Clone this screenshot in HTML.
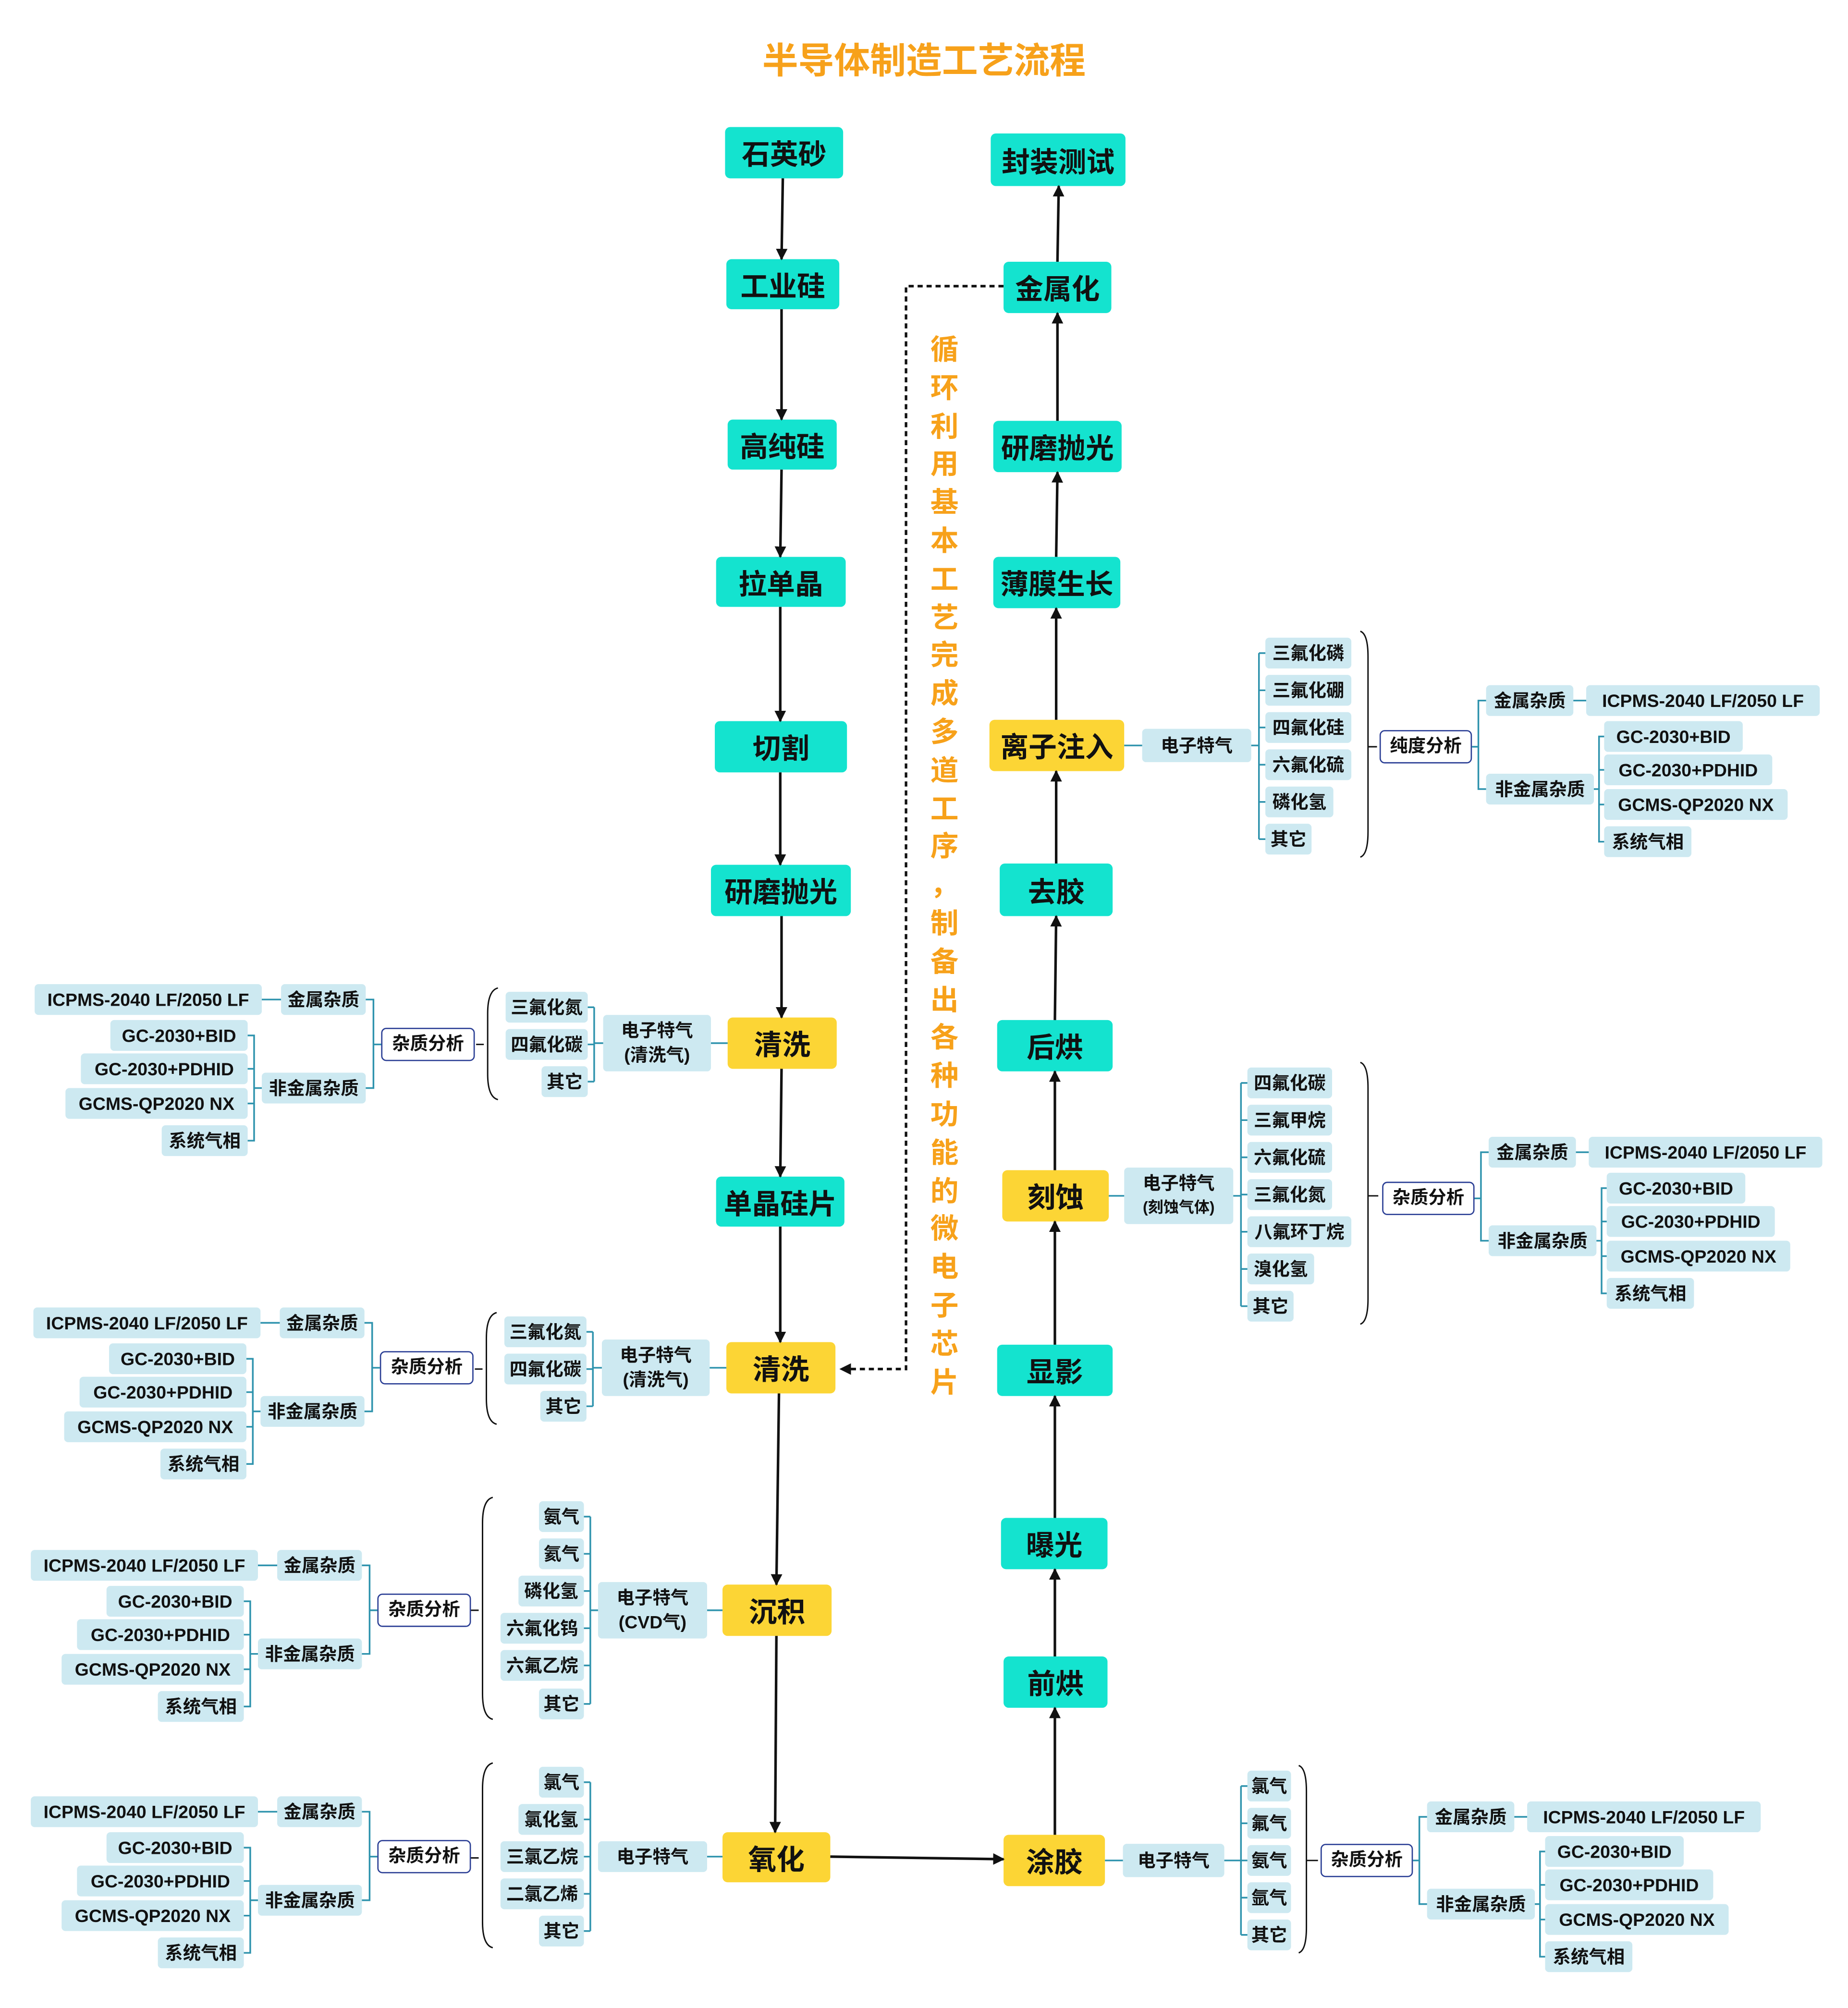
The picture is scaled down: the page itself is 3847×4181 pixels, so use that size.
<!DOCTYPE html>
<html><head><meta charset="utf-8">
<style>
html,body{margin:0;padding:0;background:#fff;width:3847px;height:4181px;overflow:hidden}
#s{position:absolute;left:0;top:0;width:1440px;height:1565px;transform:scale(2.6715,2.6716);transform-origin:0 0;font-family:"Liberation Sans","Noto Sans CJK SC",sans-serif;font-weight:bold;color:#111}
#s div{position:absolute;box-sizing:border-box}
.n,.y{background:#14e3cf;border-radius:4px;font-size:22px;display:flex;align-items:center;justify-content:center;white-space:nowrap}
.y{background:#fcd535}
.g{background:#cde9f1;border-radius:3px;font-size:14px;height:24px;line-height:24px;text-align:center;white-space:nowrap}
.e{background:#cde9f1;border-radius:3px;font-size:14px;line-height:19px;text-align:center;white-space:nowrap;display:flex;flex-direction:column;justify-content:center}
.a{background:#fff;border:1.5px solid #2b3f95;border-radius:4px;font-size:14px;height:26px;line-height:23px;text-align:center;white-space:nowrap}
svg{position:absolute;left:0;top:0;overflow:visible}
.t{stroke:#2e93ad;stroke-width:1.3;fill:none}
.k{stroke:#111;stroke-width:1.1;fill:none}
</style></head><body>
<div id="s">
<div style="left:520px;top:28px;width:400px;text-align:center;font-size:28px;color:#f7a11a;line-height:40px">半导体制造工艺流程</div>
<div style="left:721px;top:258px;width:30px;font-size:22px;color:#f7a11a;line-height:29.8px;text-align:center">循<br>环<br>利<br>用<br>基<br>本<br>工<br>艺<br>完<br>成<br>多<br>道<br>工<br>序<br>，<br>制<br>备<br>出<br>各<br>种<br>功<br>能<br>的<br>微<br>电<br>子<br>芯<br>片</div>

<!-- main nodes -->
<div class="n" style="left:565px;top:99px;width:92px;height:40px">石英砂</div>
<div class="n" style="left:566px;top:202px;width:88px;height:39px">工业硅</div>
<div class="n" style="left:567px;top:327px;width:85px;height:39px">高纯硅</div>
<div class="n" style="left:558px;top:434px;width:101px;height:39px">拉单晶</div>
<div class="n" style="left:557px;top:562px;width:103px;height:40px">切割</div>
<div class="n" style="left:554px;top:674px;width:109px;height:40px">研磨抛光</div>
<div class="y" style="left:567px;top:793px;width:85px;height:40px">清洗</div>
<div class="n" style="left:558px;top:917px;width:100px;height:39px">单晶硅片</div>
<div class="y" style="left:566px;top:1046px;width:85px;height:40px">清洗</div>
<div class="y" style="left:563px;top:1235px;width:85px;height:40px">沉积</div>
<div class="y" style="left:563px;top:1428px;width:84px;height:39px">氧化</div>
<div class="n" style="left:772px;top:104px;width:105px;height:41px">封装测试</div>
<div class="n" style="left:782px;top:204px;width:84px;height:40px">金属化</div>
<div class="n" style="left:774px;top:328px;width:100px;height:40px">研磨抛光</div>
<div class="n" style="left:774px;top:434px;width:99px;height:40px">薄膜生长</div>
<div class="y" style="left:771px;top:561px;width:105px;height:40px">离子注入</div>
<div class="n" style="left:779px;top:673px;width:88px;height:41px">去胶</div>
<div class="n" style="left:777px;top:795px;width:90px;height:40px">后烘</div>
<div class="y" style="left:781px;top:912px;width:83px;height:40px">刻蚀</div>
<div class="n" style="left:777px;top:1048px;width:90px;height:40px">显影</div>
<div class="n" style="left:780px;top:1183px;width:83px;height:40px">曝光</div>
<div class="n" style="left:782px;top:1291px;width:81px;height:40px">前烘</div>
<div class="y" style="left:782px;top:1430px;width:79px;height:40px">涂胶</div>

<!-- left gases -->
<div class="e" style="left:470px;top:791px;width:84px;height:44px"><span>电子特气</span><span>(清洗气)</span></div>
<div class="g" style="left:394px;top:773px;width:64px">三氟化氮</div>
<div class="g" style="left:394px;top:802px;width:64px">四氟化碳</div>
<div class="g" style="left:422px;top:831px;width:36px">其它</div>

<div class="e" style="left:469px;top:1044px;width:84px;height:44px"><span>电子特气</span><span>(清洗气)</span></div>
<div class="g" style="left:393px;top:1026px;width:64px">三氟化氮</div>
<div class="g" style="left:393px;top:1055px;width:64px">四氟化碳</div>
<div class="g" style="left:421px;top:1084px;width:36px">其它</div>

<div class="e" style="left:466px;top:1233px;width:85px;height:44px"><span>电子特气</span><span>(CVD气)</span></div>
<div class="g" style="left:420px;top:1170px;width:35px">氨气</div>
<div class="g" style="left:420px;top:1199px;width:35px">氦气</div>
<div class="g" style="left:404px;top:1228px;width:51px">磷化氢</div>
<div class="g" style="left:390px;top:1257px;width:65px">六氟化钨</div>
<div class="g" style="left:390px;top:1286px;width:65px">六氟乙烷</div>
<div class="g" style="left:420px;top:1316px;width:35px">其它</div>

<div class="g" style="left:466px;top:1435px;width:85px">电子特气</div>
<div class="g" style="left:420px;top:1377px;width:35px">氯气</div>
<div class="g" style="left:404px;top:1406px;width:51px">氯化氢</div>
<div class="g" style="left:390px;top:1435px;width:65px">三氯乙烷</div>
<div class="g" style="left:390px;top:1464px;width:65px">二氯乙烯</div>
<div class="g" style="left:420px;top:1493px;width:35px">其它</div>

<!-- right gases -->
<div class="g" style="left:890px;top:568px;width:85px;height:26px;line-height:26px">电子特气</div>
<div class="g" style="left:986px;top:497px;width:67px">三氟化磷</div>
<div class="g" style="left:986px;top:526px;width:67px">三氟化硼</div>
<div class="g" style="left:986px;top:555px;width:67px">四氟化硅</div>
<div class="g" style="left:986px;top:584px;width:67px">六氟化硫</div>
<div class="g" style="left:986px;top:613px;width:53px">磷化氢</div>
<div class="g" style="left:986px;top:642px;width:36px">其它</div>

<div class="e" style="left:876px;top:910px;width:85px;height:44px"><span>电子特气</span><span style="font-size:12px">(刻蚀气体)</span></div>
<div class="g" style="left:972px;top:832px;width:66px">四氟化碳</div>
<div class="g" style="left:972px;top:861px;width:66px">三氟甲烷</div>
<div class="g" style="left:972px;top:890px;width:66px">六氟化硫</div>
<div class="g" style="left:972px;top:919px;width:66px">三氟化氮</div>
<div class="g" style="left:972px;top:948px;width:81px">八氟环丁烷</div>
<div class="g" style="left:972px;top:977px;width:52px">溴化氢</div>
<div class="g" style="left:972px;top:1006px;width:36px">其它</div>

<div class="g" style="left:875px;top:1437px;width:79px;height:26px;line-height:26px">电子特气</div>
<div class="g" style="left:972px;top:1380px;width:34px">氯气</div>
<div class="g" style="left:972px;top:1409px;width:34px">氟气</div>
<div class="g" style="left:972px;top:1438px;width:34px">氨气</div>
<div class="g" style="left:972px;top:1467px;width:34px">氩气</div>
<div class="g" style="left:972px;top:1496px;width:34px">其它</div>

<!-- left analysis blocks -->
<div style="left:0px;top:767px;width:1px;height:1px">
<div class="g" style="left:27px;top:0;width:177px">ICPMS-2040 LF/2050 LF</div>
<div class="g" style="left:219px;top:0;width:66px">金属杂质</div>
<div class="g" style="left:86px;top:28px;width:107px">GC-2030+BID</div>
<div class="g" style="left:63px;top:54px;width:130px">GC-2030+PDHID</div>
<div class="g" style="left:51px;top:81px;width:142px">GCMS-QP2020 NX</div>
<div class="g" style="left:126px;top:110px;width:67px">系统气相</div>
<div class="g" style="left:204px;top:69px;width:81px">非金属杂质</div>
<div class="a" style="left:297px;top:34px;width:73px">杂质分析</div>
<svg width="1" height="1"><path class="t" d="M204 12H219M285 12H291V81H285M291 47H297M193 40H198V122H193M193 66H198M193 93H198M198 81H204"/></svg>
</div>
<div style="left:-1px;top:1019px;width:1px;height:1px">
<div class="g" style="left:27px;top:0;width:177px">ICPMS-2040 LF/2050 LF</div>
<div class="g" style="left:219px;top:0;width:66px">金属杂质</div>
<div class="g" style="left:86px;top:28px;width:107px">GC-2030+BID</div>
<div class="g" style="left:63px;top:54px;width:130px">GC-2030+PDHID</div>
<div class="g" style="left:51px;top:81px;width:142px">GCMS-QP2020 NX</div>
<div class="g" style="left:126px;top:110px;width:67px">系统气相</div>
<div class="g" style="left:204px;top:69px;width:81px">非金属杂质</div>
<div class="a" style="left:297px;top:34px;width:73px">杂质分析</div>
<svg width="1" height="1"><path class="t" d="M204 12H219M285 12H291V81H285M291 47H297M193 40H198V122H193M193 66H198M193 93H198M198 81H204"/></svg>
</div>
<div style="left:-3px;top:1208px;width:1px;height:1px">
<div class="g" style="left:27px;top:0;width:177px">ICPMS-2040 LF/2050 LF</div>
<div class="g" style="left:219px;top:0;width:66px">金属杂质</div>
<div class="g" style="left:86px;top:28px;width:107px">GC-2030+BID</div>
<div class="g" style="left:63px;top:54px;width:130px">GC-2030+PDHID</div>
<div class="g" style="left:51px;top:81px;width:142px">GCMS-QP2020 NX</div>
<div class="g" style="left:126px;top:110px;width:67px">系统气相</div>
<div class="g" style="left:204px;top:69px;width:81px">非金属杂质</div>
<div class="a" style="left:297px;top:34px;width:73px">杂质分析</div>
<svg width="1" height="1"><path class="t" d="M204 12H219M285 12H291V81H285M291 47H297M193 40H198V122H193M193 66H198M193 93H198M198 81H204"/></svg>
</div>
<div style="left:-3px;top:1400px;width:1px;height:1px">
<div class="g" style="left:27px;top:0;width:177px">ICPMS-2040 LF/2050 LF</div>
<div class="g" style="left:219px;top:0;width:66px">金属杂质</div>
<div class="g" style="left:86px;top:28px;width:107px">GC-2030+BID</div>
<div class="g" style="left:63px;top:54px;width:130px">GC-2030+PDHID</div>
<div class="g" style="left:51px;top:81px;width:142px">GCMS-QP2020 NX</div>
<div class="g" style="left:126px;top:110px;width:67px">系统气相</div>
<div class="g" style="left:204px;top:69px;width:81px">非金属杂质</div>
<div class="a" style="left:297px;top:34px;width:73px">杂质分析</div>
<svg width="1" height="1"><path class="t" d="M204 12H219M285 12H291V81H285M291 47H297M193 40H198V122H193M193 66H198M193 93H198M198 81H204"/></svg>
</div>

<!-- right analysis blocks -->
<div style="left:0px;top:534px;width:1px;height:1px">
<div class="a" style="left:1075px;top:35px;width:72px">纯度分析</div>
<div class="g" style="left:1158px;top:0;width:68px">金属杂质</div>
<div class="g" style="left:1236px;top:0;width:182px">ICPMS-2040 LF/2050 LF</div>
<div class="g" style="left:1158px;top:69px;width:84px">非金属杂质</div>
<div class="g" style="left:1250px;top:28px;width:108px">GC-2030+BID</div>
<div class="g" style="left:1250px;top:54px;width:131px">GC-2030+PDHID</div>
<div class="g" style="left:1250px;top:81px;width:143px">GCMS-QP2020 NX</div>
<div class="g" style="left:1250px;top:110px;width:68px">系统气相</div>
<svg width="1" height="1"><path class="t" d="M1147 48H1152M1158 12H1152V81H1158M1226 12H1236M1242 81H1246M1250 40H1246V122H1250M1246 66H1250M1246 93H1250"/></svg>
</div>
<div style="left:2px;top:886px;width:1px;height:1px">
<div class="a" style="left:1075px;top:35px;width:72px">杂质分析</div>
<div class="g" style="left:1158px;top:0;width:68px">金属杂质</div>
<div class="g" style="left:1236px;top:0;width:182px">ICPMS-2040 LF/2050 LF</div>
<div class="g" style="left:1158px;top:69px;width:84px">非金属杂质</div>
<div class="g" style="left:1250px;top:28px;width:108px">GC-2030+BID</div>
<div class="g" style="left:1250px;top:54px;width:131px">GC-2030+PDHID</div>
<div class="g" style="left:1250px;top:81px;width:143px">GCMS-QP2020 NX</div>
<div class="g" style="left:1250px;top:110px;width:68px">系统气相</div>
<svg width="1" height="1"><path class="t" d="M1147 48H1152M1158 12H1152V81H1158M1226 12H1236M1242 81H1246M1250 40H1246V122H1250M1246 66H1250M1246 93H1250"/></svg>
</div>
<div style="left:-46px;top:1404px;width:1px;height:1px">
<div class="a" style="left:1075px;top:33px;width:72px">杂质分析</div>
<div class="g" style="left:1158px;top:0;width:68px">金属杂质</div>
<div class="g" style="left:1236px;top:0;width:182px">ICPMS-2040 LF/2050 LF</div>
<div class="g" style="left:1158px;top:68px;width:84px">非金属杂质</div>
<div class="g" style="left:1250px;top:27px;width:108px">GC-2030+BID</div>
<div class="g" style="left:1250px;top:53px;width:131px">GC-2030+PDHID</div>
<div class="g" style="left:1250px;top:80px;width:143px">GCMS-QP2020 NX</div>
<div class="g" style="left:1250px;top:109px;width:68px">系统气相</div>
<svg width="1" height="1"><path class="t" d="M1147 46H1152M1158 12H1152V80H1158M1226 12H1236M1242 80H1246M1250 39H1246V121H1250M1246 65H1250M1246 92H1250"/></svg>
</div>

<svg width="1440" height="1565">
<defs><marker id="ar" viewBox="0 0 10 10" refX="9" refY="5" markerWidth="6" markerHeight="7" orient="auto" markerUnits="userSpaceOnUse"><path d="M0 0L10 5L0 10z" fill="#111"/></marker>
<marker id="ar2" viewBox="0 0 10 10" refX="9" refY="5" markerWidth="9" markerHeight="10" orient="auto" markerUnits="userSpaceOnUse"><path d="M0 0L10 5L0 10z" fill="#111"/></marker></defs>
<g stroke="#111" stroke-width="2" fill="none" marker-end="url(#ar2)">
<path d="M610 139L609 202"/><path d="M609 241V327"/><path d="M609 366L608 434"/><path d="M608 473V562"/><path d="M608 602V674"/><path d="M609 714L609 793"/><path d="M609 833L608 917"/><path d="M608 956V1046"/><path d="M607 1086L605 1235"/><path d="M605 1275L604 1428"/>
<path d="M647 1447L782 1449"/>
<path d="M822 1430V1331"/><path d="M822 1291V1223"/><path d="M822 1183V1088"/><path d="M822 1048V952"/><path d="M822 912V835"/><path d="M822 795L823 714"/><path d="M823 673V601"/><path d="M823 561V474"/><path d="M823 434L824 368"/><path d="M824 328V244"/><path d="M824 204L825 145"/>
</g>
<path d="M782 223H706V1067H655" stroke="#111" stroke-width="2" stroke-dasharray="4 3" fill="none" marker-end="url(#ar2)"/>
<path class="t" d="M554 813H567M463 785V843M458 785H463M458 814H463M458 843H463M463 813H470"/>
<path class="t" d="M553 1066H566M462 1038V1096M457 1038H462M457 1067H462M457 1096H462M462 1066H469"/>
<path class="t" d="M551 1255H563M460 1182V1328M455 1182H460M455 1211H460M455 1240H460M455 1269H460M455 1298H460M455 1328H460M460 1255H466"/>
<path class="t" d="M551 1447H563M460 1389V1505M455 1389H460M455 1418H460M455 1447H460M455 1476H460M455 1505H460"/>
<path class="k" d="M388 770Q380 772 380 790V837Q380 855 388 857M371 814H377"/>
<path class="k" d="M387 1023Q379 1025 379 1043V1090Q379 1108 387 1110M370 1067H376"/>
<path class="k" d="M384 1167Q376 1169 376 1187V1320Q376 1338 384 1340M367 1255H373"/>
<path class="k" d="M384 1374Q376 1376 376 1394V1498Q376 1516 384 1518M367 1448H373"/>
<path class="t" d="M876 581H890M975 581H981M981 509V654M981 509H986M981 538H986M981 567H986M981 596H986M981 625H986M981 654H986"/>
<path class="t" d="M864 932H876M961 932H967M967 844V1018M967 844H972M967 873H972M967 902H972M967 931H972M967 960H972M967 989H972M967 1018H972"/>
<path class="t" d="M861 1450H875M954 1450H967M967 1392V1508M967 1392H972M967 1421H972M967 1450H972M967 1479H972M967 1508H972"/>
<path class="k" d="M1060 492Q1066 494 1066 512V648Q1066 666 1060 668M1066 582H1073"/>
<path class="k" d="M1060 828Q1066 830 1066 848V1012Q1066 1030 1060 1032M1066 932H1074"/>
<path class="k" d="M1012 1376Q1018 1378 1018 1396V1502Q1018 1520 1012 1522M1018 1450H1027"/>
</svg>
</div>
</body></html>
